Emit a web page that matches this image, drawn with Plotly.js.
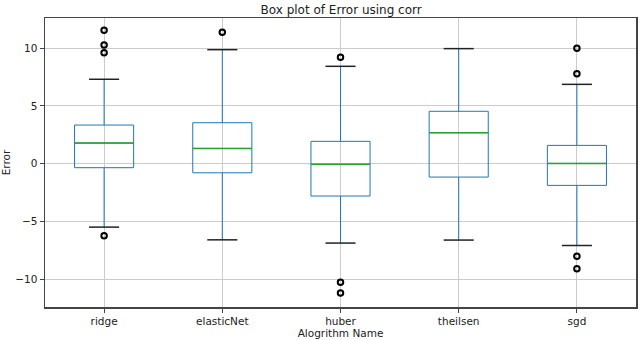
<!DOCTYPE html>
<html>
<head>
<meta charset="utf-8">
<script src="https://cdn.plot.ly/plotly-3.0.1.min.js"></script>
<style>
  html, body { margin: 0; padding: 0; background: #fff; }
  #chart { width: 640px; height: 340px; }
</style>
</head>
<body>
<div id="chart"></div>
<script>
// values
const algos = ['ridge', 'elasticNet', 'huber', 'theilsen', 'sgd'];
const q1 = [-0.35, -0.79, -2.8, -1.16, -1.88];
const medians = [1.78, 1.32, -0.06, 2.68, 0.02];
const q3 = [3.34, 3.54, 1.93, 4.53, 1.58];
const lowerFence = [-5.49, -6.59, -6.87, -6.61, -7.08];
const upperFence = [7.3, 9.86, 8.42, 9.95, 6.86];

const outlierAlgo = ['ridge', 'ridge', 'ridge', 'ridge', 'elasticNet', 'huber', 'huber', 'huber', 'sgd', 'sgd', 'sgd', 'sgd'];
const outlierVal = [11.54, 10.27, 9.6, -6.24, 11.37, 9.2, -10.25, -11.18, 9.98, 7.78, -8.0, -9.1];

const blue = '#1f77b4';
const font = 'DejaVu Sans, sans-serif';

const data = [
  {
    type: 'box',
    x: algos,
    q1: q1,
    median: medians,
    q3: q3,
    lowerfence: lowerFence,
    upperfence: upperFence,
    boxpoints: false,
    whiskerwidth: 0,
    line: { color: blue, width: 1 },
    fillcolor: 'rgba(0,0,0,0)',
    showlegend: false,
    hoverinfo: 'skip'
  },
  // medians in green
  {
    type: 'scatter', mode: 'markers', x: algos, y: medians,
    marker: { symbol: 'line-ew', size: 42, line: { color: '#2ca02c', width: 1.5 } },
    showlegend: false, hoverinfo: 'skip'
  },
  // whisker caps in black
  {
    type: 'scatter', mode: 'markers', x: algos.concat(algos), y: upperFence.concat(lowerFence),
    marker: { symbol: 'line-ew', size: 21.5, line: { color: '#222', width: 1.5 } },
    showlegend: false, hoverinfo: 'skip'
  },
  // outliers
  {
    type: 'scatter', mode: 'markers', x: outlierAlgo, y: outlierVal,
    marker: { symbol: 'circle-open', size: 5.5, color: '#000', line: { color: '#000', width: 2 } },
    showlegend: false, hoverinfo: 'skip'
  }
];

const layout = {
  width: 640,
  height: 340,
  margin: { l: 45, r: 4, t: 18, b: 33 },
  paper_bgcolor: '#fff',
  plot_bgcolor: '#fff',
  font: { family: font, size: 10.5, color: '#222' },
  title: { text: 'Box plot of Error using corr', x: 0.533, xanchor: 'center', y: 0.985, yanchor: 'top', font: { size: 12, family: font, color: '#222' } },
  boxgap: 0.5,
  boxgroupgap: 0,
  xaxis: {
    type: 'category',
    categoryorder: 'array',
    categoryarray: algos,
    range: [-0.5, 4.5],
    showgrid: true,
    gridcolor: '#cccccc',
    gridwidth: 1,
    showline: true,
    linecolor: '#444',
    linewidth: 1.5,
    mirror: true,
    ticks: 'outside',
    ticklen: 4,
    tickcolor: '#444',
    title: { text: 'Alogrithm Name', font: { size: 10.5, family: font }, standoff: 3 }
  },
  yaxis: {
    range: [-12.4, 12.6],
    dtick: 5,
    tick0: 0,
    showgrid: true,
    gridcolor: '#cccccc',
    gridwidth: 1,
    zeroline: false,
    showline: true,
    linecolor: '#444',
    linewidth: 1.5,
    mirror: true,
    ticks: 'outside',
    ticklen: 4,
    tickcolor: '#444',
    title: { text: 'Error', font: { size: 10.5, family: font }, standoff: 6 }
  }
};

Plotly.newPlot('chart', data, layout, { staticPlot: true });
</script>
</body>
</html>
